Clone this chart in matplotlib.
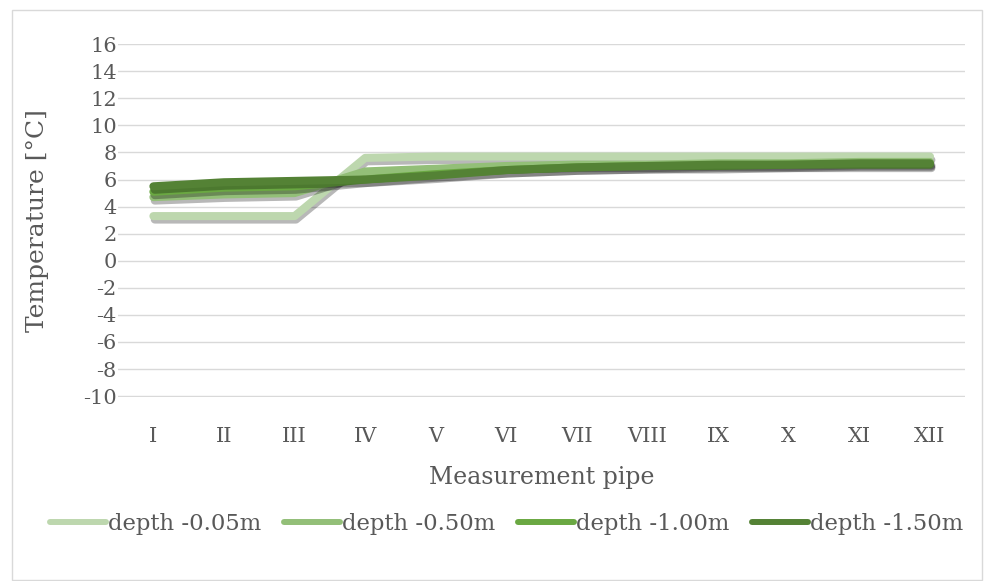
import matplotlib.pyplot as plt
import matplotlib.patheffects as pe
from matplotlib.patches import Rectangle

# data
pipes = ['I', 'II', 'III', 'IV', 'V', 'VI', 'VII', 'VIII', 'IX', 'X', 'XI', 'XII']
depth_005 = [3.3, 3.3, 3.3, 7.6, 7.7, 7.7, 7.7, 7.7, 7.7, 7.7, 7.7, 7.7]
depth_050 = [4.7, 4.9, 5.0, 6.6, 6.8, 7.0, 7.1, 7.1, 7.2, 7.2, 7.3, 7.3]
depth_100 = [5.1, 5.4, 5.5, 6.0, 6.4, 6.7, 6.9, 7.0, 7.0, 7.1, 7.1, 7.1]
depth_150 = [5.5, 5.8, 5.9, 6.0, 6.3, 6.7, 6.9, 7.0, 7.1, 7.1, 7.2, 7.2]

series = [
    ('depth -0.05m', depth_005, '#bdd7ae'),
    ('depth -0.50m', depth_050, '#93bf78'),
    ('depth -1.00m', depth_100, '#6aa842'),
    ('depth -1.50m', depth_150, '#548235'),
]

plt.rcParams['font.family'] = ['DejaVu Serif']
plt.rcParams['axes.unicode_minus'] = False

fig = plt.figure(figsize=(9.84, 5.81), dpi=100)
ax = fig.add_axes([0.12, 0.317, 0.861, 0.607])

# chart border
fig.patches.append(Rectangle((12 / 984, 0.002), 970 / 984, 0.98, transform=fig.transFigure,
                             fill=False, edgecolor='#d9d9d9', linewidth=1))

x = range(len(pipes))
shadow = [pe.SimpleLineShadow(offset=(1, -2.5), shadow_color='black', alpha=0.28), pe.Normal()]
for label, vals, col in series:
    ax.plot(x, vals, color=col, lw=5.8, solid_capstyle='round', solid_joinstyle='round',
            label=label, path_effects=shadow)

ax.set_xlim(-0.5, len(pipes) - 0.5)
ax.set_ylim(-10.05, 16)
ax.set_yticks(range(-10, 17, 2))
ax.set_xticks(list(x))
ax.set_xticklabels(pipes)
ax.grid(axis='y', color='#d9d9d9', lw=1)
ax.set_axisbelow(True)
for s in ax.spines.values():
    s.set_visible(False)
ax.tick_params(length=0, labelsize=15, labelcolor='#595959')
ax.tick_params(axis='x', pad=22)
ax.tick_params(axis='y', pad=1)

ax.set_xlabel('Measurement pipe', fontsize=17, color='#595959', labelpad=14)
ax.set_ylabel('Temperature [°C]', fontsize=18, color='#595959')
ax.yaxis.set_label_coords(-0.081, 0.5)

leg = fig.legend(loc='center', bbox_to_anchor=(0.515, 1 - 524 / 581), ncol=4, frameon=False,
                 fontsize=16.4, handlelength=2.45, handletextpad=0.1, columnspacing=1.0,
                 labelcolor='#595959')
for h in leg.get_lines():
    h.set_linewidth(4.3)
    h.set_solid_capstyle('round')
    h.set_path_effects([])

fig.savefig('out.png', dpi=100)
